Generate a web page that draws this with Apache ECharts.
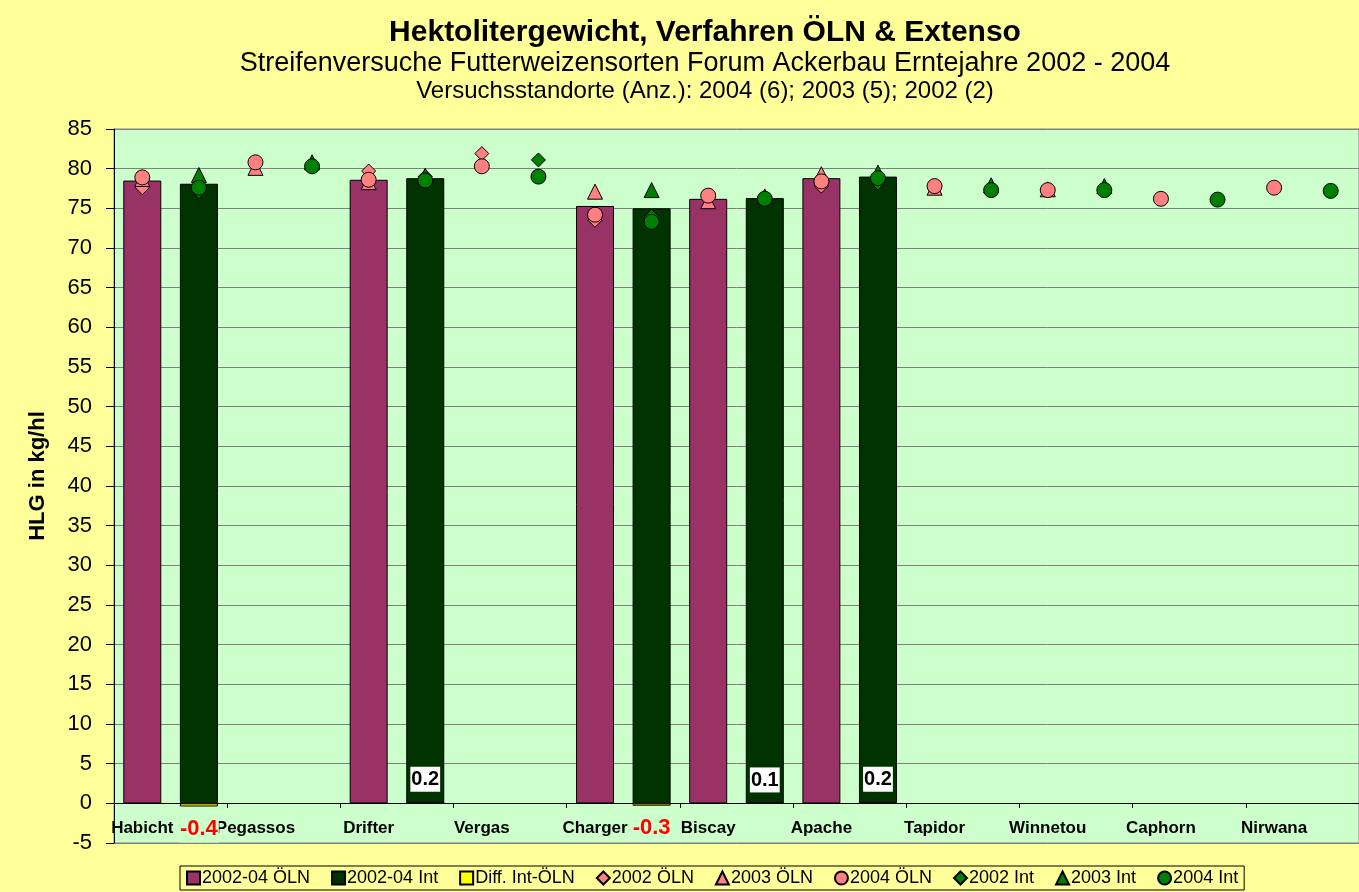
<!DOCTYPE html>
<html>
<head>
<meta charset="utf-8">
<script src="https://cdn.jsdelivr.net/npm/echarts@6/dist/echarts.min.js"></script>
<style>
  html, body { margin: 0; padding: 0; background: #FFFF99; }
  #chart { width: 1359px; height: 892px; }
</style>
</head>
<body>
<div id="chart"></div>
<script>
// Sorten (je Sorte zwei Plaetze: OELN und Int)
const varieties = ['Habicht', 'Pegassos', 'Drifter', 'Vergas', 'Charger', 'Biscay', 'Apache', 'Tapidor', 'Winnetou', 'Caphorn', 'Nirwana']

// Mittelwerte 2002-04 und Differenz
const avgOLN = [78.5, null, 78.6, null, 75.3, 76.2, 78.8, null, null, null, null]
const avgInt = [78.1, null, 78.8, null, 75.0, 76.3, 79.0, null, null, null, null]
const diffIntOLN = [-0.4, null, 0.2, null, -0.3, 0.1, 0.2, null, null, null, null]

// Einzeljahre
const oln2002 = [77.6, null, 79.7, 81.9, 73.5, null, 77.8, null, null, null, null]
const oln2003 = [78.7, 80.1, 78.3, null, 77.1, 75.9, 79.3, 77.6, 77.4, null, null]
const oln2004 = [78.9, 80.8, 78.6, 80.3, 74.2, 76.6, 78.4, 77.8, 77.3, 76.2, 77.6]
const int2002 = [77.1, null, 79.0, 81.1, 74.0, null, 78.2, null, null, null, null]
const int2003 = [79.2, 80.8, 79.1, null, 77.3, 76.5, 79.5, 77.9, 77.8, null, null]
const int2004 = [77.6, 80.3, 78.5, 79.0, 73.3, 76.2, 78.8, 77.3, 77.3, 76.1, 77.2]

const yTicks = { min: -5, max: 85, step: 5 }

const FONT = '"Liberation Sans", Arial, sans-serif'

// 22 Plaetze: gerade = OELN, ungerade = Int
function slots (arr, odd) {
  const out = []
  arr.forEach(v => {
    const val = v == null ? '-' : v
    if (odd) { out.push('-', val) } else { out.push(val, '-') }
  })
  return out
}
const xLabels = []
varieties.forEach(v => { xLabels.push(v, '') })

const diffData = slots(diffIntOLN, true).map(v => {
  if (v === '-') return v
  if (v >= 0) {
    return {
      value: v,
      label: {
        show: true, position: 'top', distance: 10, formatter: '{c}',
        color: '#000', fontWeight: 'bold', fontSize: 20, fontFamily: FONT,
        backgroundColor: '#FFFFFF', padding: [3, 1, 2, 1]
      }
    }
  }
  return {
    value: v,
    label: {
      show: true, position: 'bottom', distance: 11, formatter: '{c}',
      color: '#FF0000', fontWeight: 'bold', fontSize: 22, fontFamily: FONT,
      backgroundColor: '#CCFFCC', padding: [0, 1, 3, 1]
    }
  }
})

const pink = '#FF8080'
const green = '#008000'
function markers (name, arr, odd, symbol, size, color) {
  return {
    name: name,
    type: 'scatter',
    data: slots(arr, odd),
    symbol: symbol,
    symbolSize: size,
    itemStyle: { color: color, borderColor: '#000', borderWidth: 1, opacity: 1 },
    emphasis: { disabled: true }
  }
}

const myChart = echarts.init(document.getElementById('chart'))
myChart.setOption({
  animation: false,
  backgroundColor: '#FFFF99',
  textStyle: { fontFamily: FONT },
  graphic: [
    { type: 'text', x: 705, y: 33, style: { text: 'Hektolitergewicht, Verfahren ÖLN & Extenso', font: 'bold 30px ' + FONT, fill: '#000', textAlign: 'center', textVerticalAlign: 'middle' } },
    { type: 'text', x: 705, y: 64, style: { text: 'Streifenversuche Futterweizensorten Forum Ackerbau Erntejahre 2002 - 2004', font: '27px ' + FONT, fill: '#000', textAlign: 'center', textVerticalAlign: 'middle' } },
    { type: 'text', x: 705, y: 91, style: { text: 'Versuchsstandorte (Anz.): 2004 (6); 2003 (5); 2002 (2)', font: '24px ' + FONT, fill: '#000', textAlign: 'center', textVerticalAlign: 'middle' } },
    { type: 'text', x: 38, y: 476, rotation: Math.PI / 2, style: { text: 'HLG in kg/hl', font: 'bold 22px ' + FONT, fill: '#000', textAlign: 'center', textVerticalAlign: 'middle' } }
  ],
  legend: {
    left: 180,
    top: 866,
    itemWidth: 13,
    itemHeight: 13,
    itemGap: 21,
    padding: [3, 6, 3, 6],
    borderColor: '#000',
    borderWidth: 1,
    textStyle: { fontSize: 18, color: '#000', fontFamily: FONT, padding: [0, 0, 0, -3] },
    data: [
      { name: '2002-04 ÖLN', icon: 'rect' },
      { name: '2002-04 Int', icon: 'rect' },
      { name: 'Diff. Int-ÖLN', icon: 'rect' },
      '2002 ÖLN', '2003 ÖLN', '2004 ÖLN', '2002 Int', '2003 Int', '2004 Int'
    ]
  },
  grid: {
    left: 114,
    right: -9,
    top: 129,
    bottom: 49,
    show: true,
    backgroundColor: '#CCFFCC',
    borderColor: '#808080',
    borderWidth: 1
  },
  xAxis: [
    {
      type: 'category',
      data: xLabels,
      boundaryGap: true,
      axisLine: { onZero: true, lineStyle: { color: '#000', width: 1 } },
      axisTick: { show: false },
      axisLabel: { interval: 0, margin: -23, color: '#000', fontWeight: 'bold', fontSize: 17, fontFamily: FONT },
      splitLine: { show: false }
    },
    {
      // nur fuer die Teilstriche zwischen den Sorten, auf Hoehe der Nulllinie
      type: 'category',
      data: varieties,
      position: 'bottom',
      offset: -40,
      boundaryGap: true,
      axisLine: { show: true, onZero: false, lineStyle: { color: '#000', width: 1 } },
      axisTick: { show: true, length: 5, lineStyle: { color: '#000' } },
      axisLabel: { show: false },
      splitLine: { show: false }
    }
  ],
  yAxis: {
    type: 'value',
    min: yTicks.min,
    max: yTicks.max,
    interval: yTicks.step,
    axisLine: { show: true, onZero: false, lineStyle: { color: '#000', width: 1 } },
    axisTick: { show: true, length: 8, lineStyle: { color: '#000' } },
    axisLabel: { color: '#000', fontSize: 22, margin: 22, fontFamily: FONT },
    splitLine: { show: true, lineStyle: { color: '#808080', width: 1 } }
  },
  series: [
    {
      name: '2002-04 ÖLN',
      type: 'bar',
      data: slots(avgOLN, false),
      barWidth: 38,
      barGap: '-100%',
      itemStyle: { color: '#993366', borderColor: '#000', borderWidth: 1 }
    },
    {
      name: '2002-04 Int',
      type: 'bar',
      data: slots(avgInt, true),
      barWidth: 38,
      barGap: '-100%',
      itemStyle: { color: '#003300', borderColor: '#000', borderWidth: 1 }
    },
    {
      name: 'Diff. Int-ÖLN',
      type: 'bar',
      data: diffData,
      barWidth: 38,
      barGap: '-100%',
      itemStyle: { color: '#FFFF00', borderColor: '#000', borderWidth: 1 }
    },
    markers('2002 ÖLN', oln2002, false, 'diamond', 14, pink),
    markers('2003 ÖLN', oln2003, false, 'triangle', 15, pink),
    markers('2004 ÖLN', oln2004, false, 'circle', 15, pink),
    markers('2002 Int', int2002, true, 'diamond', 14, green),
    markers('2003 Int', int2003, true, 'triangle', 15, green),
    markers('2004 Int', int2004, true, 'circle', 15, green)
  ]
})
</script>
</body>
</html>
